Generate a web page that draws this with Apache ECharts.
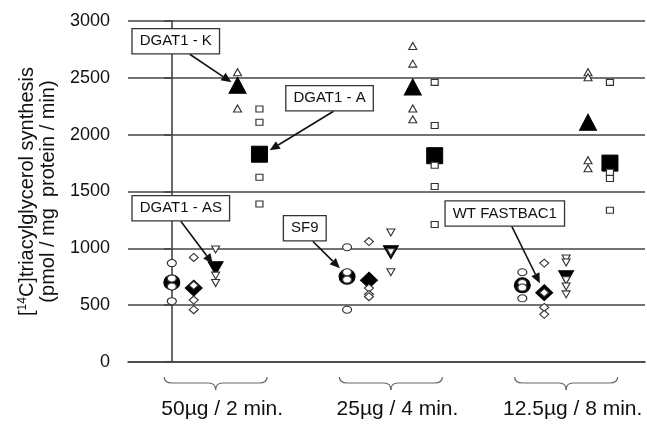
<!DOCTYPE html>
<html>
<head>
<meta charset="utf-8">
<script src="https://cdn.jsdelivr.net/npm/echarts/dist/echarts.min.js"></script>
<style>
html, body { margin: 0; padding: 0; background: #fff; }
#chart { width: 647px; height: 426px; }
</style>
</head>
<body>
<div id="chart"></div>
<script>
var myChart = echarts.init(document.getElementById('chart'), null, { renderer: 'canvas' });

var FONT = 'Liberation Sans, Arial, sans-serif';

// groups along the x axis
var groups = ['50µg / 2 min.', '25µg / 4 min.', '12.5µg / 8 min.'];

// replicate values per group, and the group means
var sf9Reps = [[870, 735, 665, 535], [1010, 790, 725, 460], [790, 695, 655, 560]];
var sf9Means = [700, 750, 675];
var wtReps = [[920, 675, 545, 460], [1060, 650, 595, 575], [870, 610, 480, 420]];
var wtMeans = [650, 720, 610];
var asReps = [[990, 760, 695], [1140, 965, 790], [910, 875, 720, 665, 595]];
var asMeans = [825, 965, 745];
var kReps = [[2550, 2230], [2780, 2625, 2230, 2135], [2550, 2505, 1775, 1705]];
var kMeans = [2435, 2420, 2110];
var aReps = [[2225, 2110, 1625, 1390], [2460, 2080, 1730, 1545, 1210], [2460, 1670, 1615, 1335]];
var aMeans = [1828, 1815, 1750];

var SLOTS = 8; // x units per group

var kinds = [
  { name: 'SF9', symbol: 'circle', rot: 0, reps: sf9Reps, means: sf9Means, big: [16, 15], small: [9, 7] },
  { name: 'WT FASTBAC1', symbol: 'diamond', rot: 0, reps: wtReps, means: wtMeans, big: [17, 16], small: [9, 8] },
  { name: 'DGAT1 - AS', symbol: 'triangle', rot: 180, reps: asReps, means: asMeans, big: [15, 13], small: [8, 7] },
  { name: 'DGAT1 - K', symbol: 'triangle', rot: 0, reps: kReps, means: kMeans, big: [17, 16], small: [8, 7] },
  { name: 'DGAT1 - A', symbol: 'rect', rot: 0, reps: aReps, means: aMeans, big: [16, 16], small: [7, 6] }
];

// label boxes: box centre and arrow tip in data coords
var notes = [
  { text: 'DGAT1 - K', box: [0.18, 2822], tip: [2.72, 2462], sdx: 14 },
  { text: 'DGAT1 - A', box: [7.2, 2320], tip: [4.47, 1863], sdx: 4 },
  { text: 'DGAT1 - AS', box: [0.41, 1353], tip: [1.87, 865], sdx: 0 },
  { text: 'SF9', box: [6.07, 1177], tip: [7.67, 825], sdx: 8 },
  { text: 'WT FASTBAC1', box: [15.2, 1307], tip: [16.8, 693], sdx: 7 }
];

var series = [];

kinds.forEach(function (k, s) {
  series.push({
    name: k.name + ' mean',
    type: 'scatter',
    symbol: k.symbol,
    symbolRotate: k.rot,
    symbolSize: k.big,
    itemStyle: { color: '#000', borderColor: '#000', borderWidth: 1, opacity: 1 },
    data: k.means.map(function (v, g) { return [g * SLOTS + s, v]; }),
    z: 3
  });
});

kinds.forEach(function (k, s) {
  var d = [];
  k.reps.forEach(function (arr, g) {
    arr.forEach(function (v) { d.push([g * SLOTS + s, v]); });
  });
  series.push({
    name: k.name,
    type: 'scatter',
    symbol: k.symbol,
    symbolRotate: k.rot,
    symbolSize: k.small,
    itemStyle: { color: '#fff', borderColor: '#333', borderWidth: 1.1, opacity: 1 },
    data: d,
    z: 4
  });
});

// curly braces + group labels under the axis
series.push({
  type: 'custom',
  silent: true,
  clip: false,
  z: 5,
  data: groups.map(function (n, g) { return [g * SLOTS + 2, 0, g]; }),
  renderItem: function (params, api) {
    var g = api.value(2);
    var c = g * SLOTS + 2;
    var L = api.coord([c - 2.35, 0]), R = api.coord([c + 2.35, 0]), M = api.coord([c, 0]);
    var y0 = M[1];
    var ya = y0 + 15, yb = y0 + 21, yc = y0 + 28;
    var xl = L[0], xr = R[0], xm = M[0];
    var st = { stroke: '#666', lineWidth: 1.2, fill: null };
    return {
      type: 'group',
      children: [
        { type: 'bezierCurve', shape: { x1: xl, y1: ya, x2: xl + 8, y2: yb, cpx1: xl, cpy1: yb }, style: st },
        { type: 'line', shape: { x1: xl + 8, y1: yb, x2: xm - 7, y2: yb }, style: st },
        { type: 'bezierCurve', shape: { x1: xm - 7, y1: yb, x2: xm, y2: yc, cpx1: xm, cpy1: yb }, style: st },
        { type: 'bezierCurve', shape: { x1: xm + 7, y1: yb, x2: xm, y2: yc, cpx1: xm, cpy1: yb }, style: st },
        { type: 'line', shape: { x1: xm + 7, y1: yb, x2: xr - 8, y2: yb }, style: st },
        { type: 'bezierCurve', shape: { x1: xr - 8, y1: yb, x2: xr, y2: ya, cpx1: xr, cpy1: yb }, style: st },
        {
          type: 'text',
          style: {
            text: groups[g], x: api.coord([c + 0.3, 0])[0], y: y0 + 47,
            align: 'center', verticalAlign: 'middle',
            fill: '#111', fontSize: 21, fontFamily: FONT
          }
        }
      ]
    };
  }
});

// annotation boxes with arrows
series.push({
  type: 'custom',
  silent: true,
  clip: false,
  z: 6,
  data: notes.map(function (n, i) { return [n.box[0], n.box[1], i]; }),
  renderItem: function (params, api) {
    var n = notes[api.value(2)];
    var c = api.coord(n.box);
    var e = api.coord(n.tip);
    var s = [c[0] + n.sdx, c[1] + 13];
    var ang = Math.atan2(e[1] - s[1], e[0] - s[0]);
    var hl = 10, hw = 4.5;
    var bx = e[0] - hl * Math.cos(ang), by = e[1] - hl * Math.sin(ang);
    var px = -Math.sin(ang) * hw, py = Math.cos(ang) * hw;
    return {
      type: 'group',
      children: [
        { type: 'line', shape: { x1: s[0], y1: s[1], x2: bx, y2: by }, style: { stroke: '#111', lineWidth: 1.6 } },
        { type: 'polygon', shape: { points: [[e[0], e[1]], [bx + px, by + py], [bx - px, by - py]] }, style: { fill: '#111' } },
        {
          type: 'text',
          style: {
            text: n.text, x: c[0], y: c[1],
            align: 'center', verticalAlign: 'middle',
            fill: '#111', fontSize: 15, fontFamily: FONT,
            backgroundColor: '#fff', borderColor: '#333', borderWidth: 1.3,
            padding: [5, 7, 4, 7]
          }
        }
      ]
    };
  }
});

var option = {
  backgroundColor: '#fff',
  animation: false,
  grid: { left: 128, right: 2, top: 21, bottom: 64 },
  xAxis: {
    type: 'value',
    min: -2,
    max: 21.6,
    axisLine: { show: true, lineStyle: { color: '#444', width: 1.6 } },
    axisTick: { show: false },
    axisLabel: { show: false },
    splitLine: { show: false }
  },
  yAxis: {
    type: 'value',
    min: 0,
    max: 3000,
    interval: 500,
    axisLine: { show: true, lineStyle: { color: '#444', width: 1.6 } },
    axisTick: { show: true, length: 8, lineStyle: { color: '#444', width: 1.6 } },
    axisLabel: {
      color: '#111', fontSize: 18, fontFamily: FONT, margin: 18,
      formatter: function (v) { return String(v); }
    },
    splitLine: { show: true, lineStyle: { color: '#444', width: 1.6 } },
    name: '[{sup|14}C]triacylglycerol synthesis\n(pmol / mg  protein / min)',
    nameLocation: 'middle',
    nameGap: 62,
    nameRotate: 90,
    nameTextStyle: {
      color: '#111', fontSize: 20, fontFamily: FONT, lineHeight: 21,
      rich: { sup: { fontSize: 12, fontFamily: FONT, color: '#111', verticalAlign: 'top', lineHeight: 21 } }
    }
  },
  series: series
};

myChart.setOption(option);
</script>
</body>
</html>
